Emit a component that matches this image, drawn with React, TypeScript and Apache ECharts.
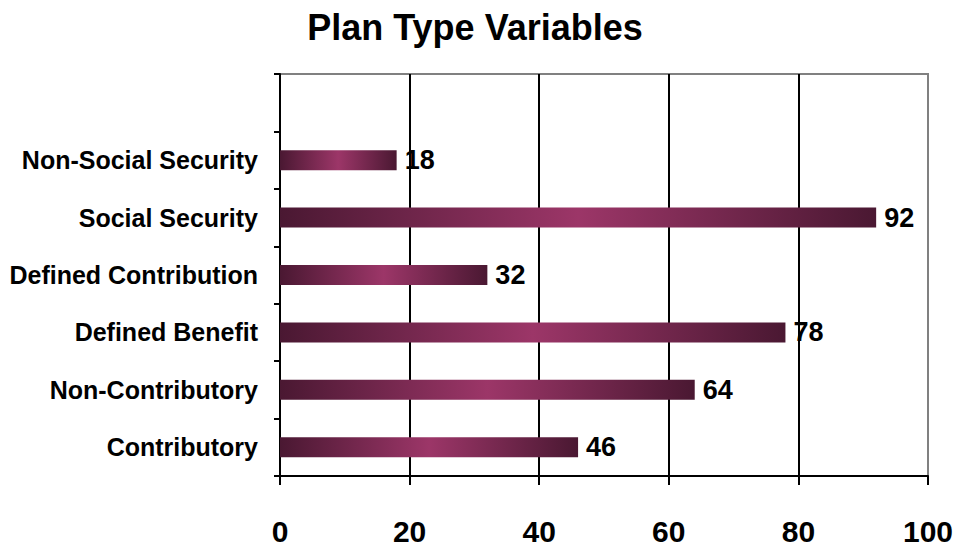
import React, { useEffect, useRef } from "react";
import * as echarts from "echarts";

const categories = [
  "Contributory",
  "Non-Contributory",
  "Defined Benefit",
  "Defined Contribution",
  "Social Security",
  "Non-Social Security",
  "",
];
const values = [46, 64, 78, 32, 92, 18, null];
const xMin = 0;
const xMax = 100;
const xStep = 20;

const FONT = '"Liberation Sans", Arial, Helvetica, sans-serif';
const DARK = "#4a1832";
const LIGHT = "#9c3668";

export default function App() {
  const ref = useRef<HTMLDivElement>(null);

  useEffect(() => {
    if (!ref.current) return;
    const chart = echarts.init(ref.current, undefined, { renderer: "svg" });
    const barGradient = new echarts.graphic.LinearGradient(0, 0, 1, 0, [
      { offset: 0, color: DARK },
      { offset: 0.5, color: LIGHT },
      { offset: 1, color: DARK },
    ]);
    chart.setOption({
      animation: false,
      backgroundColor: "#ffffff",
      textStyle: { fontFamily: FONT },
      title: {
        text: "Plan Type Variables",
        left: 470,
        textAlign: "center",
        top: 4,
        textStyle: { fontFamily: FONT, fontSize: 36, fontWeight: "bold", color: "#000" },
      },
      grid: {
        left: 280,
        right: 29,
        top: 74,
        bottom: 70,
        show: true,
        borderColor: "#808080",
        borderWidth: 2,
        backgroundColor: "transparent",
      },
      xAxis: {
        type: "value",
        min: xMin,
        max: xMax,
        interval: xStep,
        axisLine: { show: true, onZero: false, lineStyle: { color: "#000", width: 2 } },
        axisTick: { show: true, length: 9, lineStyle: { color: "#000", width: 2 } },
        splitLine: {
          show: true,
          lineStyle: { color: ["#000", "#000", "#000", "#000", "#000", "#808080"], width: 2 },
        },
        axisLabel: {
          margin: 40,
          fontFamily: FONT,
          fontSize: 30,
          fontWeight: "bold",
          color: "#000",
        },
      },
      yAxis: {
        type: "category",
        data: categories,
        axisLine: { show: true, lineStyle: { color: "#000", width: 2 } },
        axisTick: { show: true, length: 6, alignWithLabel: false, lineStyle: { color: "#000", width: 2 } },
        splitLine: { show: false },
        axisLabel: {
          margin: 22,
          fontFamily: FONT,
          fontSize: 25,
          fontWeight: "bold",
          color: "#000",
        },
      },
      series: [
        {
          type: "bar",
          data: values,
          barWidth: 20,
          itemStyle: { color: barGradient },
          label: {
            show: true,
            position: "right",
            distance: 8,
            fontFamily: FONT,
            fontSize: 27,
            fontWeight: "bold",
            color: "#000",
          },
        },
      ],
    });
    return () => chart.dispose();
  }, []);

  return (
    <div
      ref={ref}
      style={{ position: "fixed", left: 0, top: 0, width: 957, height: 546 }}
    />
  );
}
